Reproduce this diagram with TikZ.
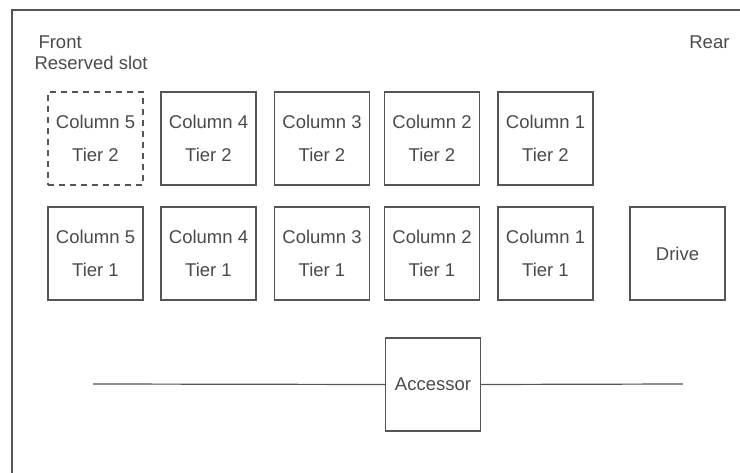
\documentclass[tikz,border=0pt]{standalone}
\usepackage{fontspec}
\setmainfont{Liberation Sans}
\definecolor{ink}{HTML}{4A4A4A}
\definecolor{edge}{HTML}{555555}
\begin{document}
\begin{tikzpicture}[x=1pt,y=-1pt,
  every node/.style={text=ink, font=\fontsize{18.5}{33}\selectfont},
  slot/.style={draw=edge, line width=1.2pt, minimum width=95pt, minimum height=93pt,
    inner sep=0pt, align=center},
  reserved/.style={slot, dashed, dash pattern=on 6pt off 5pt},
  rail/.style={draw=edge, line width=1.2pt}]
\useasboundingbox (0,0) rectangle (740,473);
% library frame (left and top walls)
\draw[draw=edge, line width=1.2pt] (12,473) -- (12,10) -- (740,10);
% orientation labels
\node[anchor=west] (front) at (35,42.5) {Front};
\node[anchor=west] (resv) at (31,63) {Reserved slot};
\node[anchor=east] (rear) at (733,42) {Rear};
% tier 2 row
\node[reserved] (c5t2) at (95.5,138.5) {Column 5\\Tier 2};
\node[slot] (c4t2) at (208.5,138.5) {Column 4\\Tier 2};
\node[slot] (c3t2) at (322,138.5) {Column 3\\Tier 2};
\node[slot] (c2t2) at (432,138.5) {Column 2\\Tier 2};
\node[slot] (c1t2) at (545.5,138.5) {Column 1\\Tier 2};
% tier 1 row
\node[slot] (c5t1) at (95.5,253.5) {Column 5\\Tier 1};
\node[slot] (c4t1) at (208.5,253.5) {Column 4\\Tier 1};
\node[slot] (c3t1) at (322,253.5) {Column 3\\Tier 1};
\node[slot] (c2t1) at (432,253.5) {Column 2\\Tier 1};
\node[slot] (c1t1) at (545.5,253.5) {Column 1\\Tier 1};
\node[slot] (drive) at (677.5,253.5) {Drive};
% accessor on its rail
\node[slot] (acc) at (433,384.5) {Accessor};
\coordinate (railL) at (93,384);
\coordinate (railR) at (683,384);
\draw[rail] (railL) -- (acc.west);
\draw[rail] (acc.east) -- (railR);
\end{tikzpicture}
\end{document}
